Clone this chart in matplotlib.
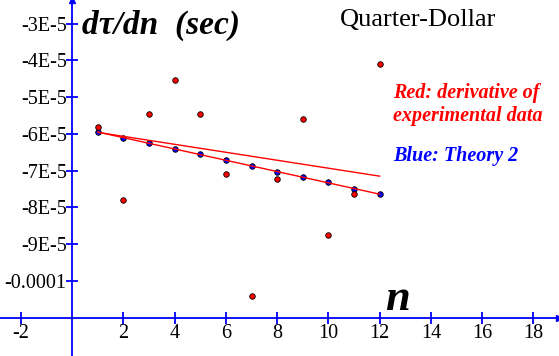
import numpy as np
import matplotlib.pyplot as plt

# values
n = [1, 2, 3, 4, 5, 6, 7, 8, 9, 10, 11, 12]
red_exp = [-5.82e-5, -7.79e-5, -5.47e-5, -4.54e-5, -5.45e-5, -7.09e-5,
           -1.040e-4, -7.23e-5, -5.60e-5, -8.76e-5, -7.64e-5, -4.09e-5]
blue_th2 = [-5.95e-5, -6.10e-5, -6.24e-5, -6.40e-5, -6.55e-5, -6.71e-5,
            -6.87e-5, -7.03e-5, -7.16e-5, -7.32e-5, -7.49e-5, -7.64e-5]
fit_n = [1, 12]
fit_upper = [-5.96e-5, -7.15e-5]
fit_lower = [-5.95e-5, -7.64e-5]

xticks = [-2, 2, 4, 6, 8, 10, 12, 14, 16, 18]
yticks = [-3e-5, -4e-5, -5e-5, -6e-5, -7e-5, -8e-5, -9e-5, -1e-4]
ytick_labels = ['-3E-5', '-4E-5', '-5E-5', '-6E-5', '-7E-5', '-8E-5', '-9E-5', '-0.0001']

plt.rcParams['font.family'] = ['Liberation Serif', 'DejaVu Serif']

fig = plt.figure(figsize=(5.59, 3.56), dpi=100)
ax = fig.add_axes([0, 0, 1, 1])
ax.set_xlim(-2.82, 19.0)
ax.set_ylim(-1.204e-4, -2.36e-5)

blue = '#0000ff'
for s in ['top', 'right']:
    ax.spines[s].set_visible(False)
ax.spines['left'].set_position(('data', 0))
ax.spines['bottom'].set_position(('data', -1.1e-4))
ax.spines['left'].set_color(blue)
ax.spines['bottom'].set_color(blue)
ax.spines['left'].set_linewidth(1.3)
ax.spines['bottom'].set_linewidth(1.3)

ax.set_xticks(xticks)
ax.set_xticklabels([str(t) for t in xticks])
ax.set_yticks(yticks)
ax.set_yticklabels(ytick_labels)
ax.tick_params(direction='inout', length=8, width=1.3, color=blue,
               labelsize=14.5, pad=0.5)
ax.tick_params(axis='y', pad=0)

# arrow heads
ax.plot(1, -1.1e-4, '>', color=blue, ms=5, transform=ax.get_yaxis_transform(), clip_on=False)
ax.plot(0, 1, '^', color=blue, ms=5, transform=ax.get_xaxis_transform(), clip_on=False)

ax.plot(n, blue_th2, 'o', color=blue, ms=4, mec='black', mew=0.6, zorder=3)
ax.plot(n, red_exp, 'o', color='red', ms=4, mec='black', mew=0.6, zorder=3)
ax.plot(fit_n, fit_upper, color='red', lw=1.0, zorder=4)
ax.plot(fit_n, fit_lower, color='red', lw=1.0, zorder=4)

ax.text(0.37, -3.27e-5, 'dτ/dn  (sec)', fontsize=24, fontweight='bold',
        fontstyle='italic', va='baseline', ha='left')
ax.text(10.46, -3.07e-5, 'Quarter-Dollar', fontsize=19, va='baseline', ha='left')
ax.text(12.53, -5.03e-5, 'Red: derivative of', fontsize=14.5, fontweight='bold',
        fontstyle='italic', color='red', va='baseline', ha='left')
ax.text(12.53, -5.65e-5, 'experimental data', fontsize=14.5, fontweight='bold',
        fontstyle='italic', color='red', va='baseline', ha='left')
ax.text(12.53, -6.74e-5, 'Blue: Theory 2', fontsize=14.5, fontweight='bold',
        fontstyle='italic', color=blue, va='baseline', ha='left')
ax.text(12.68, -1.0795e-4, 'n', fontsize=32, fontweight='bold',
        fontstyle='italic', va='baseline', ha='center')

fig.savefig('out.png', dpi=100)
